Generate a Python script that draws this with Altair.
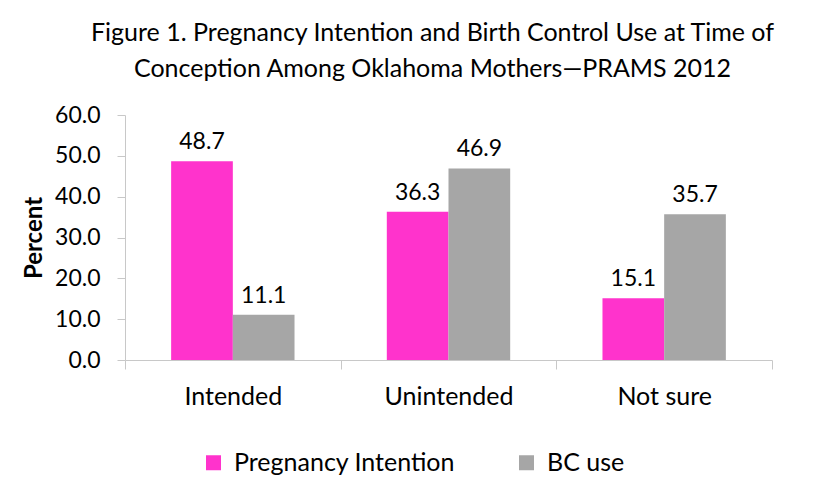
import altair as alt
import pandas as pd

categories = ["Intended", "Unintended", "Not sure"]
series = ["Pregnancy Intention", "BC use"]
preg_values = [48.7, 36.3, 15.1]
bc_values = [11.1, 46.9, 35.7]
colors = ["#FF33CC", "#A6A6A6"]

rows = []
for c, p, b in zip(categories, preg_values, bc_values):
    rows.append({"cat": c, "series": series[0], "value": p})
    rows.append({"cat": c, "series": series[1], "value": b})
df = pd.DataFrame(rows)

FONT = "Lato"

base = alt.Chart(df).encode(
    x=alt.X("cat:N", sort=categories, title=None,
            scale=alt.Scale(paddingInner=0, paddingOuter=0),
            axis=alt.Axis(tickBand="extent", labelAngle=0, labelFontSize=25,
                          labelFont=FONT, labelColor="black", labelPadding=15,
                          domainColor="#C8C8C8", tickColor="#C8C8C8", tickSize=9)),
    xOffset=alt.XOffset("series:N", sort=series,
                        scale=alt.Scale(paddingInner=0, paddingOuter=0.748)),
)

bars = base.mark_bar().encode(
    y=alt.Y("value:Q", title="Percent",
            scale=alt.Scale(domain=[0, 60]),
            axis=alt.Axis(values=[0, 10, 20, 30, 40, 50, 60], format=".1f",
                          grid=False, labelFontSize=23, labelFont=FONT,
                          labelColor="black", titleFont=FONT, titleFontSize=24,
                          titleFontWeight="bold", titleColor="black",
                          domainColor="#C8C8C8", tickColor="#C8C8C8", tickSize=8,
                          labelPadding=17, titlePadding=8)),
    color=alt.Color("series:N", sort=series,
                    scale=alt.Scale(domain=series, range=colors),
                    legend=alt.Legend(title=None, orient="none", direction="horizontal",
                                      legendX=76, legendY=335,
                                      symbolType="square", symbolSize=225,
                                      symbolStrokeWidth=0, labelLimit=0,
                                      labelFontSize=25, labelFont=FONT,
                                      labelColor="black", columnPadding=58,
                                      symbolOffset=0, labelOffset=8)),
)

labels = base.mark_text(baseline="alphabetic", dy=-12, fontSize=23, font=FONT,
                        color="black").encode(
    y="value:Q",
    text=alt.Text("value:Q", format=".1f"),
)

chart = alt.layer(bars, labels).properties(
    width=647, height=245,
    autosize=alt.AutoSizeParams(type="none"),
    padding={"left": 117, "top": 107, "right": 40, "bottom": 118},
    title=alt.Title(["Figure 1. Pregnancy Intention and Birth Control Use at Time of",
                     "Conception Among Oklahoma Mothers\u2014PRAMS 2012"],
                    font=FONT, fontSize=25, fontWeight="normal", color="black",
                    anchor="middle", dx=-16, offset=22, lineHeight=36),
).configure_view(stroke=None)

chart.save("out.html", embed_options={"renderer": "svg", "actions": False})
